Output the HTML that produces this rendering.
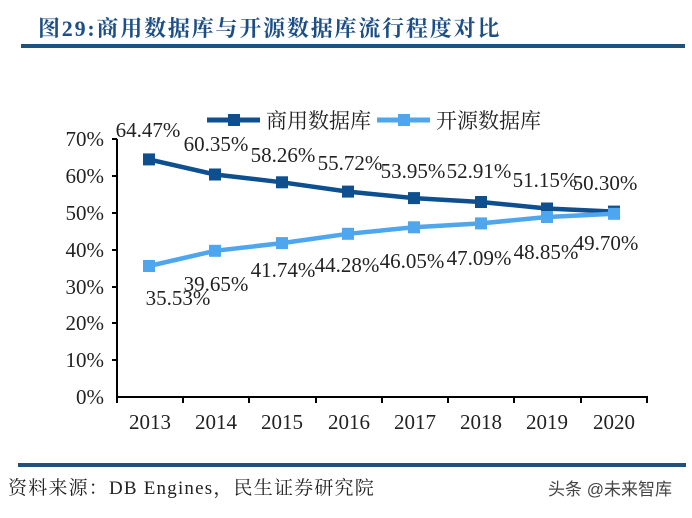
<!DOCTYPE html>
<html><head><meta charset="utf-8"><style>
body{margin:0;background:#fff;width:692px;height:513px;overflow:hidden}
</style></head><body>
<svg width="692" height="513" xmlns="http://www.w3.org/2000/svg" font-family="Liberation Serif, Noto Serif CJK SC, serif">
<text x="38" y="36" font-size="22" font-weight="bold" fill="#1d4f86" letter-spacing="1.8">图29:商用数据库与开源数据库流行程度对比</text>
<rect x="21" y="44" width="664" height="4" fill="#1d527f"/>
<rect x="18" y="463" width="668" height="4" fill="#1d527f"/>
<text x="8" y="494" font-size="19" fill="#222" letter-spacing="1.2">资料来源：DB Engines，民生证券研究院</text>
<text x="548" y="495" font-size="17" fill="#444" font-family="Liberation Sans, Noto Sans CJK SC, sans-serif">头条 @未来智库</text>
<!-- legend -->
<line x1="207" y1="120" x2="260" y2="120" stroke="#0d4f8f" stroke-width="5"/>
<rect x="228" y="114" width="12" height="12" fill="#0d4f8f"/>
<text x="266" y="128" font-size="21" fill="#222">商用数据库</text>
<line x1="377" y1="120" x2="430" y2="120" stroke="#4ea6ef" stroke-width="5"/>
<rect x="398" y="114" width="12" height="12" fill="#4ea6ef"/>
<text x="436" y="128" font-size="21" fill="#222">开源数据库</text>
<!-- axes -->
<g stroke="#000" stroke-width="2">
<line x1="117" y1="139" x2="117" y2="398"/>
<line x1="116" y1="397" x2="648" y2="397"/>
<line x1="112" y1="139" x2="117" y2="139"/><line x1="112" y1="176" x2="117" y2="176"/>
<line x1="112" y1="213" x2="117" y2="213"/><line x1="112" y1="250" x2="117" y2="250"/>
<line x1="112" y1="287" x2="117" y2="287"/><line x1="112" y1="323" x2="117" y2="323"/>
<line x1="112" y1="360" x2="117" y2="360"/>
<line x1="183" y1="397" x2="183" y2="403"/><line x1="249" y1="397" x2="249" y2="403"/>
<line x1="316" y1="397" x2="316" y2="403"/><line x1="382" y1="397" x2="382" y2="403"/>
<line x1="448" y1="397" x2="448" y2="403"/><line x1="514" y1="397" x2="514" y2="403"/>
<line x1="581" y1="397" x2="581" y2="403"/><line x1="647" y1="397" x2="647" y2="403"/>
<line x1="117" y1="397" x2="117" y2="403"/>
</g>
<g font-size="21" fill="#222" text-anchor="end">
<text x="104" y="146">70%</text><text x="104" y="183">60%</text><text x="104" y="220">50%</text>
<text x="104" y="257">40%</text><text x="104" y="294">30%</text><text x="104" y="330">20%</text>
<text x="104" y="367">10%</text><text x="104" y="404">0%</text>
</g>
<g font-size="21" fill="#222" text-anchor="middle">
<text x="150" y="429">2013</text><text x="216" y="429">2014</text><text x="282" y="429">2015</text>
<text x="349" y="429">2016</text><text x="415" y="429">2017</text><text x="481" y="429">2018</text>
<text x="547" y="429">2019</text><text x="614" y="429">2020</text>
</g>
<polyline fill="none" stroke="#0d4f8f" stroke-width="4.5" points="149,159.4 215,174.5 282,182.3 348,191.6 414,198.1 481,202 547,208.5 614,211.6"/>
<polyline fill="none" stroke="#4ea6ef" stroke-width="4.5" points="149,266 215,250.8 282,243.1 348,233.8 414,227.3 481,223.4 547,217 614,213.8"/>
<g fill="#0d4f8f">
<rect x="143" y="153.4" width="12" height="12"/><rect x="209" y="168.5" width="12" height="12"/>
<rect x="276" y="176.3" width="12" height="12"/><rect x="342" y="185.6" width="12" height="12"/>
<rect x="408" y="192.1" width="12" height="12"/><rect x="475" y="196" width="12" height="12"/>
<rect x="541" y="202.5" width="12" height="12"/><rect x="608" y="205.6" width="12" height="12"/>
</g>
<g fill="#4ea6ef">
<rect x="143" y="260" width="12" height="12"/><rect x="209" y="244.8" width="12" height="12"/>
<rect x="276" y="237.1" width="12" height="12"/><rect x="342" y="227.8" width="12" height="12"/>
<rect x="408" y="221.3" width="12" height="12"/><rect x="475" y="217.4" width="12" height="12"/>
<rect x="541" y="211" width="12" height="12"/><rect x="608" y="207.8" width="12" height="12"/>
</g>
<g font-size="21" fill="#222" text-anchor="middle">
<text x="148" y="137">64.47%</text><text x="216" y="151">60.35%</text><text x="283" y="162">58.26%</text>
<text x="350" y="170">55.72%</text><text x="413" y="178">53.95%</text><text x="479" y="178">52.91%</text>
<text x="545" y="187">51.15%</text><text x="605" y="190">50.30%</text>
<text x="178" y="305">35.53%</text><text x="216" y="291">39.65%</text><text x="283" y="277">41.74%</text>
<text x="347" y="272">44.28%</text><text x="412" y="268">46.05%</text><text x="479" y="265">47.09%</text>
<text x="546" y="259">48.85%</text><text x="606" y="250">49.70%</text>
</g>
</svg>
</body></html>
